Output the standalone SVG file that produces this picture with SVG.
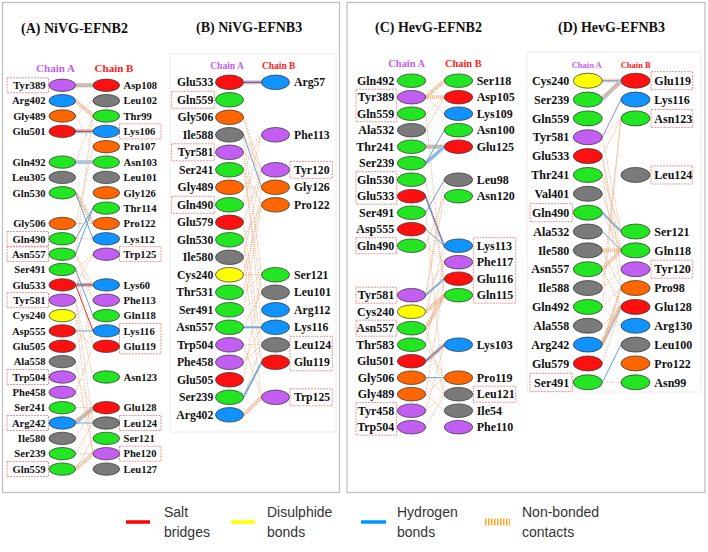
<svg xmlns="http://www.w3.org/2000/svg" width="708" height="552" viewBox="0 0 708 552">
<style>
text{font-family:"Liberation Serif","Times New Roman",serif;font-weight:bold;fill:#111}
.title{font-size:14px}
.ta{font-size:10.6px}.tb{font-size:11.7px}.tc{font-size:12px}
.e{text-anchor:end}.m{text-anchor:middle}
.cha{fill:#c35ef2}.chb{fill:#ff1a1a}
ellipse{stroke:#2a2a2a;stroke-width:0.7}
.p{fill:#c35ef2}.r{fill:#ff1010}.b{fill:#1093ff}.g{fill:#22e622}.o{fill:#ff6600}.k{fill:#7a7a7a}.y{fill:#ffff00}
.bx{fill:none;stroke:#e07a7a;stroke-width:0.8;stroke-dasharray:2 1}
line{fill:none}
.nb{stroke:#f0a070;stroke-width:1;stroke-dasharray:1 1.2;opacity:.85}
.nbb{stroke:#f3a877;stroke-width:4;stroke-dasharray:1 1}
.hb{stroke:#4a9bd6;stroke-width:0.9}
.hbb{stroke:#a6cde9;stroke-width:4}
.sb{stroke:#e3201b;stroke-width:1}
.frame{fill:#fff;stroke:#bdbdbd;stroke-width:1.2}
.inner{fill:none;stroke:#ececec;stroke-width:1}
.lg{font-family:"Liberation Sans",Arial,sans-serif;font-weight:normal;font-size:14px;fill:#333}
</style>
<rect width="708" height="552" fill="#fff"/>
<rect class="frame" x="2.5" y="2.5" width="337" height="490"/>
<rect class="frame" x="347" y="2.5" width="358" height="490"/>
<rect class="inner" x="170" y="54" width="166" height="378"/>
<rect class="inner" x="527" y="52" width="174" height="340"/>

<g id="titles">
<text class="title" x="21" y="33">(A) NiVG-EFNB2</text>
<text class="title" x="196" y="32">(B) NiVG-EFNB3</text>
<text class="title" x="375" y="32">(C) HevG-EFNB2</text>
<text class="title" x="558" y="32">(D) HevG-EFNB3</text>
<text class="m cha" x="55.5" y="72" font-size="11">Chain A</text>
<text class="m chb" x="114" y="72" font-size="11">Chain B</text>
<text class="m cha" x="227" y="68.5" font-size="9.5">Chain A</text>
<text class="m chb" x="278.7" y="68.5" font-size="9.5">Chain B</text>
<text class="m cha" x="406.7" y="67" font-size="10.4">Chain A</text>
<text class="m chb" x="463.3" y="67" font-size="10.4">Chain B</text>
<text class="m cha" x="586.7" y="67.5" font-size="8.5">Chain A</text>
<text class="m chb" x="635.7" y="67.5" font-size="8.5">Chain B</text>
</g>

<g id="connectors">
<!-- Panel A -->
<line class="hbb" x1="75.6" y1="85.3" x2="93" y2="85.3"/><line class="nbb" x1="75.6" y1="85.3" x2="93" y2="85.3"/>
<line class="nbb" x1="75.6" y1="100.7" x2="93" y2="116"/>
<line class="hbb" x1="75.6" y1="131.4" x2="93" y2="131.4"/><line class="nb" x1="75.6" y1="129.8" x2="93" y2="129.8"/><line class="sb" x1="75.6" y1="131.4" x2="93" y2="131.4"/>
<line class="hbb" x1="75.6" y1="162.1" x2="93" y2="162.1"/><line class="nb" x1="75.6" y1="162.1" x2="93" y2="162.1"/>
<line class="nbb" x1="75.6" y1="192.8" x2="93" y2="223.5"/>
<line class="hbb" x1="75.6" y1="284.9" x2="93" y2="284.9"/><line class="nb" x1="75.6" y1="283.3" x2="93" y2="283.3"/><line class="sb" x1="75.6" y1="284.9" x2="93" y2="284.9"/>
<line class="hbb" x1="75.6" y1="423" x2="93" y2="407.7"/><line class="nbb" x1="75.6" y1="421" x2="93" y2="409.5"/>
<line class="nbb" x1="75.6" y1="469.1" x2="93" y2="453.7"/>
<line class="hb" x1="75.6" y1="192.8" x2="93" y2="238.8"/>
<line class="hb" x1="75.6" y1="238.8" x2="93" y2="208.1"/>
<line class="hb" x1="75.6" y1="254.2" x2="93" y2="208.1"/>
<line class="hb" x1="75.6" y1="269.5" x2="93" y2="315.6"/>
<line class="hb" x1="75.6" y1="330.9" x2="93" y2="330.9"/>
<line class="hb" x1="75.6" y1="423" x2="93" y2="423"/>
<line class="sb" x1="75.6" y1="284.9" x2="93" y2="330.9"/>
<line class="nb" x1="75.6" y1="116" x2="93" y2="100.7"/>
<line class="nb" x1="75.6" y1="116" x2="93" y2="146.7"/>
<line class="nb" x1="75.6" y1="162.1" x2="93" y2="116"/>
<line class="nb" x1="75.6" y1="254.2" x2="93" y2="116"/>
<line class="nb" x1="75.6" y1="223.5" x2="93" y2="146.7"/>
<line class="nb" x1="75.6" y1="223.5" x2="93" y2="223.5"/>
<line class="nb" x1="75.6" y1="238.8" x2="93" y2="238.8"/>
<line class="nb" x1="75.6" y1="254.2" x2="93" y2="284.9"/>
<line class="nb" x1="75.6" y1="254.2" x2="93" y2="300.2"/>
<line class="nb" x1="75.6" y1="269.5" x2="93" y2="284.9"/>
<line class="nb" x1="75.6" y1="269.5" x2="93" y2="346.3"/>
<line class="nb" x1="75.6" y1="300.2" x2="93" y2="284.9"/>
<line class="nb" x1="75.6" y1="300.2" x2="93" y2="377"/>
<line class="nb" x1="75.6" y1="315.6" x2="93" y2="300.2"/>
<line class="nb" x1="75.6" y1="346.3" x2="93" y2="315.6"/>
<line class="nb" x1="75.6" y1="330.9" x2="93" y2="346.3"/>
<line class="nb" x1="75.6" y1="377" x2="93" y2="407.7"/>
<line class="nb" x1="75.6" y1="392.3" x2="93" y2="423"/>
<line class="nb" x1="75.6" y1="407.7" x2="93" y2="407.7"/>
<line class="nb" x1="75.6" y1="361.6" x2="93" y2="453.7"/>
<line class="nb" x1="75.6" y1="438.4" x2="93" y2="407.7"/>
<line class="nb" x1="75.6" y1="453.7" x2="93" y2="453.7"/>
<line class="nb" x1="75.6" y1="453.7" x2="93" y2="423"/>
<line class="nb" x1="75.6" y1="300.2" x2="93" y2="423"/>
<line class="nb" x1="75.6" y1="315.6" x2="93" y2="453.7"/>
<line class="nb" x1="75.6" y1="469.1" x2="93" y2="438.4"/>
<line class="nb" x1="75.6" y1="392.3" x2="93" y2="346.3"/>
<line class="nb" x1="75.6" y1="284.9" x2="93" y2="254.2"/>
<line class="nb" x1="75.6" y1="269.5" x2="93" y2="254.2"/>
<!-- Panel B -->
<line class="hbb" x1="243.5" y1="82.3" x2="261.5" y2="82.3"/><line class="sb" x1="243.5" y1="82.3" x2="261.5" y2="82.3"/>
<line class="nbb" x1="243.5" y1="414.8" x2="261.5" y2="397.3"/>
<line class="hbb" x1="243.5" y1="327.3" x2="261.5" y2="327.3" style="stroke-width:2.5"/><line class="hb" x1="243.5" y1="327.3" x2="261.5" y2="327.3"/>
<line class="hb" x1="243.5" y1="134.8" x2="261.5" y2="187.3"/>
<line class="hbb" x1="243.5" y1="397.3" x2="261.5" y2="362.3" style="stroke-width:2.5"/><line class="hb" x1="243.5" y1="397.3" x2="261.5" y2="362.3"/>
<line class="nb" x1="243.5" y1="117.3" x2="261.5" y2="169.8"/>
<line class="nb" x1="243.5" y1="117.3" x2="261.5" y2="187.3"/>
<line class="nb" x1="243.5" y1="134.8" x2="261.5" y2="169.8"/>
<line class="nb" x1="243.5" y1="152.3" x2="261.5" y2="134.8"/>
<line class="nb" x1="243.5" y1="152.3" x2="261.5" y2="169.8"/>
<line class="nb" x1="243.5" y1="169.8" x2="261.5" y2="134.8"/>
<line class="nb" x1="243.5" y1="169.8" x2="261.5" y2="204.8"/>
<line class="nb" x1="243.5" y1="187.3" x2="261.5" y2="169.8"/>
<line class="nb" x1="243.5" y1="187.3" x2="261.5" y2="187.3"/>
<line class="nb" x1="243.5" y1="204.8" x2="261.5" y2="134.8"/>
<line class="nb" x1="243.5" y1="204.8" x2="261.5" y2="187.3"/>
<line class="nb" x1="243.5" y1="222.3" x2="261.5" y2="169.8"/>
<line class="nb" x1="243.5" y1="239.8" x2="261.5" y2="204.8"/>
<line class="nb" x1="243.5" y1="257.3" x2="261.5" y2="169.8"/>
<line class="nb" x1="243.5" y1="257.3" x2="261.5" y2="397.3"/>
<line class="nb" x1="243.5" y1="274.8" x2="261.5" y2="204.8"/>
<line class="nb" x1="243.5" y1="292.3" x2="261.5" y2="274.8"/>
<line class="nb" x1="243.5" y1="292.3" x2="261.5" y2="187.3"/>
<line class="nb" x1="243.5" y1="309.8" x2="261.5" y2="204.8"/>
<line class="nb" x1="243.5" y1="309.8" x2="261.5" y2="292.3"/>
<line class="nb" x1="243.5" y1="344.8" x2="261.5" y2="344.8"/>
<line class="nb" x1="243.5" y1="362.3" x2="261.5" y2="344.8"/>
<line class="nb" x1="243.5" y1="362.3" x2="261.5" y2="327.3"/>
<line class="nb" x1="243.5" y1="379.8" x2="261.5" y2="274.8"/>
<line class="nb" x1="243.5" y1="274.8" x2="261.5" y2="274.8"/>
<line class="nb" x1="243.5" y1="239.8" x2="261.5" y2="362.3"/>
<line class="nb" x1="243.5" y1="169.8" x2="261.5" y2="292.3"/>
<line class="nb" x1="243.5" y1="152.3" x2="261.5" y2="327.3"/>
<line class="nb" x1="243.5" y1="222.3" x2="261.5" y2="344.8"/>
<line class="nb" x1="243.5" y1="344.8" x2="261.5" y2="397.3"/>
<line class="nb" x1="243.5" y1="327.3" x2="261.5" y2="292.3"/>
<line class="nb" x1="243.5" y1="134.8" x2="261.5" y2="274.8"/>
<line class="nb" x1="243.5" y1="397.3" x2="261.5" y2="344.8"/>
<!-- Panel C -->
<line class="nbb" x1="425.7" y1="97.2" x2="444.3" y2="80.7"/>
<line class="nbb" x1="425.7" y1="97.2" x2="444.3" y2="97.2"/>
<line class="hbb" x1="425.7" y1="146.7" x2="444.3" y2="146.7"/><line class="nbb" x1="425.7" y1="146.7" x2="444.3" y2="146.7"/>
<line class="hbb" x1="425.7" y1="163.2" x2="444.3" y2="146.7"/><line class="hb" x1="425.7" y1="163.2" x2="444.3" y2="146.7"/>
<line class="nbb" x1="425.7" y1="311.7" x2="444.3" y2="295.2"/>
<line class="nbb" x1="425.7" y1="328.2" x2="444.3" y2="295.2"/>
<line class="hbb" x1="425.7" y1="361.2" x2="444.3" y2="344.7"/><line class="sb" x1="425.7" y1="361.2" x2="444.3" y2="344.7"/>
<line class="hb" x1="425.7" y1="163.2" x2="444.3" y2="130.2"/>
<line class="hb" x1="425.7" y1="212.7" x2="444.3" y2="179.7"/>
<line class="sb" x1="425.7" y1="196.2" x2="444.3" y2="245.7" style="stroke:#7a5a8a"/>
<line class="hb" x1="425.7" y1="198.2" x2="444.3" y2="247.7"/>
<line class="hb" x1="425.7" y1="229.2" x2="444.3" y2="245.7"/>
<line class="hbb" x1="425.7" y1="295.2" x2="444.3" y2="278.7" style="stroke-width:2.5"/><line class="hb" x1="425.7" y1="295.2" x2="444.3" y2="278.7"/>
<line class="hb" x1="425.7" y1="377.7" x2="444.3" y2="377.7"/>
<line class="nb" x1="425.7" y1="97.2" x2="444.3" y2="113.7"/>
<line class="nb" x1="425.7" y1="113.7" x2="444.3" y2="97.2"/>
<line class="nb" x1="425.7" y1="130.2" x2="444.3" y2="97.2"/>
<line class="nb" x1="425.7" y1="295.2" x2="444.3" y2="196.2"/>
<line class="nb" x1="425.7" y1="295.2" x2="444.3" y2="179.7"/>
<line class="nb" x1="425.7" y1="245.7" x2="444.3" y2="196.2"/>
<line class="nb" x1="425.7" y1="245.7" x2="444.3" y2="262.2"/>
<line class="nb" x1="425.7" y1="295.2" x2="444.3" y2="262.2"/>
<line class="nb" x1="425.7" y1="113.7" x2="444.3" y2="295.2"/>
<line class="nb" x1="425.7" y1="344.7" x2="444.3" y2="377.7"/>
<line class="nb" x1="425.7" y1="377.7" x2="444.3" y2="394.2"/>
<line class="nb" x1="425.7" y1="394.2" x2="444.3" y2="377.7"/>
<line class="nb" x1="425.7" y1="410.7" x2="444.3" y2="394.2"/>
<line class="nb" x1="425.7" y1="427.2" x2="444.3" y2="394.2"/>
<line class="nb" x1="425.7" y1="394.2" x2="444.3" y2="278.7"/>
<line class="nb" x1="425.7" y1="328.2" x2="444.3" y2="394.2"/>
<line class="nb" x1="425.7" y1="344.7" x2="444.3" y2="262.2"/>
<line class="nb" x1="425.7" y1="311.7" x2="444.3" y2="245.7"/>
<line class="nb" x1="425.7" y1="410.7" x2="444.3" y2="344.7"/>
<line class="nb" x1="425.7" y1="212.7" x2="444.3" y2="394.2"/>
<line class="nb" x1="425.7" y1="179.7" x2="444.3" y2="278.7"/>
<line class="nb" x1="425.7" y1="394.2" x2="444.3" y2="410.7"/>
<!-- Panel D -->
<line class="nbb" x1="602.3" y1="80.7" x2="621" y2="80.7"/><line class="hb" x1="602.3" y1="80.7" x2="621" y2="80.7"/>
<line class="hbb" x1="602.3" y1="99.55" x2="621" y2="80.7"/><line class="nbb" x1="602.3" y1="97.5" x2="621" y2="82.5"/>
<line class="nbb" x1="602.3" y1="250.35" x2="621" y2="250.35"/>
<line class="nbb" x1="602.3" y1="269.2" x2="621" y2="250.35"/>
<line class="hbb" x1="602.3" y1="344.6" x2="621" y2="306.9" style="stroke-width:2.5"/><line class="nbb" x1="602.3" y1="342.6" x2="621" y2="305"/>
<line class="nbb" x1="602.3" y1="344.6" x2="621" y2="288.05" style="stroke-width:2.5"/>
<line class="hb" x1="602.3" y1="137.25" x2="621" y2="99.55" style="stroke:#7d7fd0"/>
<line class="hbb" x1="602.3" y1="212.65" x2="621" y2="231.5" style="stroke-width:2.5"/><line class="hb" x1="602.3" y1="212.65" x2="621" y2="231.5"/>
<line class="hb" x1="602.3" y1="231.5" x2="621" y2="250.35"/>
<line class="hb" x1="602.3" y1="382.3" x2="621" y2="344.6"/>
<line class="nb" x1="602.3" y1="382.3" x2="621" y2="382.3"/>
<line class="nb" x1="602.3" y1="137.25" x2="621" y2="118.4"/>
<line class="nb" x1="602.3" y1="156.1" x2="621" y2="118.4"/>
<line class="nb" x1="602.3" y1="137.25" x2="621" y2="231.5"/>
<line class="nb" x1="602.3" y1="156.1" x2="621" y2="250.35"/>
<line class="nb" x1="602.3" y1="156.1" x2="621" y2="269.2"/>
<line class="nb" x1="602.3" y1="174.95" x2="621" y2="231.5"/>
<line class="nb" x1="602.3" y1="174.95" x2="621" y2="288.05"/>
<line class="nb" x1="602.3" y1="193.8" x2="621" y2="250.35"/>
<line class="nb" x1="602.3" y1="288.05" x2="621" y2="269.2"/>
<line class="nb" x1="602.3" y1="306.9" x2="621" y2="288.05"/>
<line class="nb" x1="602.3" y1="325.75" x2="621" y2="306.9"/>
<line class="nb" x1="602.3" y1="363.45" x2="621" y2="306.9"/>
<line class="nb" x1="602.3" y1="288.05" x2="621" y2="118.4"/>
<line class="nb" x1="602.3" y1="306.9" x2="621" y2="118.4"/>
<line class="nb" x1="602.3" y1="269.2" x2="621" y2="306.9"/>
<line class="nb" x1="602.3" y1="306.9" x2="621" y2="325.75"/>
<line class="nb" x1="602.3" y1="250.35" x2="621" y2="288.05"/>
<line class="nb" x1="602.3" y1="212.65" x2="621" y2="250.35"/>
</g>

<g id="panelA">
<g id="A-a-Tyr389"><rect class="bx" x="7" y="77.8" width="41.5" height="15"/><ellipse class="p" cx="62.3" cy="85.3" rx="13.3" ry="6.2"/><text class="ta e" x="45.5" y="89">Tyr389</text></g>
<g id="A-a-Arg402"><ellipse class="b" cx="62.3" cy="100.7" rx="13.3" ry="6.2"/><text class="ta e" x="45.5" y="104.4">Arg402</text></g>
<g id="A-a-Gly489"><ellipse class="o" cx="62.3" cy="116" rx="13.3" ry="6.2"/><text class="ta e" x="45.5" y="119.7">Gly489</text></g>
<g id="A-a-Glu501"><ellipse class="r" cx="62.3" cy="131.4" rx="13.3" ry="6.2"/><text class="ta e" x="45.5" y="135.1">Glu501</text></g>
<g id="A-a-Gln492"><ellipse class="g" cx="62.3" cy="162.1" rx="13.3" ry="6.2"/><text class="ta e" x="45.5" y="165.8">Gln492</text></g>
<g id="A-a-Leu305"><ellipse class="k" cx="62.3" cy="177.4" rx="13.3" ry="6.2"/><text class="ta e" x="45.5" y="181.1">Leu305</text></g>
<g id="A-a-Gln530"><ellipse class="g" cx="62.3" cy="192.8" rx="13.3" ry="6.2"/><text class="ta e" x="45.5" y="196.5">Gln530</text></g>
<g id="A-a-Gly506"><ellipse class="o" cx="62.3" cy="223.5" rx="13.3" ry="6.2"/><text class="ta e" x="45.5" y="227.2">Gly506</text></g>
<g id="A-a-Gln490"><rect class="bx" x="7" y="231.5" width="41.5" height="14.6"/><ellipse class="g" cx="62.3" cy="238.8" rx="13.3" ry="6.2"/><text class="ta e" x="45.5" y="242.5">Gln490</text></g>
<g id="A-a-Asn557"><rect class="bx" x="7" y="246.9" width="41.5" height="14.6"/><ellipse class="g" cx="62.3" cy="254.2" rx="13.3" ry="6.2"/><text class="ta e" x="45.5" y="257.9">Asn557</text></g>
<g id="A-a-Ser491"><ellipse class="g" cx="62.3" cy="269.5" rx="13.3" ry="6.2"/><text class="ta e" x="45.5" y="273.2">Ser491</text></g>
<g id="A-a-Glu533"><ellipse class="r" cx="62.3" cy="284.9" rx="13.3" ry="6.2"/><text class="ta e" x="45.5" y="288.6">Glu533</text></g>
<g id="A-a-Tyr581"><rect class="bx" x="7" y="292.7" width="41.5" height="15"/><ellipse class="p" cx="62.3" cy="300.2" rx="13.3" ry="6.2"/><text class="ta e" x="45.5" y="303.9">Tyr581</text></g>
<g id="A-a-Cys240"><ellipse class="y" cx="62.3" cy="315.6" rx="13.3" ry="6.2"/><text class="ta e" x="45.5" y="319.3">Cys240</text></g>
<g id="A-a-Asp555"><ellipse class="r" cx="62.3" cy="330.9" rx="13.3" ry="6.2"/><text class="ta e" x="45.5" y="334.6">Asp555</text></g>
<g id="A-a-Glu505"><ellipse class="r" cx="62.3" cy="346.3" rx="13.3" ry="6.2"/><text class="ta e" x="45.5" y="350">Glu505</text></g>
<g id="A-a-Ala558"><ellipse class="k" cx="62.3" cy="361.6" rx="13.3" ry="6.2"/><text class="ta e" x="45.5" y="365.3">Ala558</text></g>
<g id="A-a-Trp504"><rect class="bx" x="7" y="369.5" width="41.5" height="15"/><ellipse class="p" cx="62.3" cy="377" rx="13.3" ry="6.2"/><text class="ta e" x="45.5" y="380.7">Trp504</text></g>
<g id="A-a-Phe458"><ellipse class="p" cx="62.3" cy="392.3" rx="13.3" ry="6.2"/><text class="ta e" x="45.5" y="396">Phe458</text></g>
<g id="A-a-Ser241"><ellipse class="g" cx="62.3" cy="407.7" rx="13.3" ry="6.2"/><text class="ta e" x="45.5" y="411.4">Ser241</text></g>
<g id="A-a-Arg242"><rect class="bx" x="7" y="415.5" width="41.5" height="15"/><ellipse class="b" cx="62.3" cy="423" rx="13.3" ry="6.2"/><text class="ta e" x="45.5" y="426.7">Arg242</text></g>
<g id="A-a-Ile580"><ellipse class="k" cx="62.3" cy="438.4" rx="13.3" ry="6.2"/><text class="ta e" x="45.5" y="442.1">Ile580</text></g>
<g id="A-a-Ser239"><ellipse class="g" cx="62.3" cy="453.7" rx="13.3" ry="6.2"/><text class="ta e" x="45.5" y="457.4">Ser239</text></g>
<g id="A-a-Gln559"><rect class="bx" x="7" y="461.6" width="41.5" height="15"/><ellipse class="g" cx="62.3" cy="469.1" rx="13.3" ry="6.2"/><text class="ta e" x="45.5" y="472.8">Gln559</text></g>

<g id="A-b-Asp108"><ellipse class="r" cx="106.3" cy="85.3" rx="13.3" ry="6.2"/><text class="ta" x="123.5" y="89">Asp108</text></g>
<g id="A-b-Leu102"><ellipse class="k" cx="106.3" cy="100.7" rx="13.3" ry="6.2"/><text class="ta" x="123.5" y="104.4">Leu102</text></g>
<g id="A-b-Thr99"><ellipse class="g" cx="106.3" cy="116" rx="13.3" ry="6.2"/><text class="ta" x="123.5" y="119.7">Thr99</text></g>
<g id="A-b-Lys106"><rect class="bx" x="119.5" y="123.9" width="41.5" height="15"/><ellipse class="b" cx="106.3" cy="131.4" rx="13.3" ry="6.2"/><text class="ta" x="123.5" y="135.1">Lys106</text></g>
<g id="A-b-Pro107"><ellipse class="o" cx="106.3" cy="146.7" rx="13.3" ry="6.2"/><text class="ta" x="123.5" y="150.4">Pro107</text></g>
<g id="A-b-Asn103"><ellipse class="g" cx="106.3" cy="162.1" rx="13.3" ry="6.2"/><text class="ta" x="123.5" y="165.8">Asn103</text></g>
<g id="A-b-Leu101"><ellipse class="k" cx="106.3" cy="177.4" rx="13.3" ry="6.2"/><text class="ta" x="123.5" y="181.1">Leu101</text></g>
<g id="A-b-Gly126"><ellipse class="o" cx="106.3" cy="192.8" rx="13.3" ry="6.2"/><text class="ta" x="123.5" y="196.5">Gly126</text></g>
<g id="A-b-Thr114"><ellipse class="g" cx="106.3" cy="208.1" rx="13.3" ry="6.2"/><text class="ta" x="123.5" y="211.8">Thr114</text></g>
<g id="A-b-Pro122"><ellipse class="o" cx="106.3" cy="223.5" rx="13.3" ry="6.2"/><text class="ta" x="123.5" y="227.2">Pro122</text></g>
<g id="A-b-Lys112"><ellipse class="b" cx="106.3" cy="238.8" rx="13.3" ry="6.2"/><text class="ta" x="123.5" y="242.5">Lys112</text></g>
<g id="A-b-Trp125"><rect class="bx" x="119.5" y="246.7" width="41.5" height="15"/><ellipse class="p" cx="106.3" cy="254.2" rx="13.3" ry="6.2"/><text class="ta" x="123.5" y="257.9">Trp125</text></g>
<g id="A-b-Lys60"><ellipse class="b" cx="106.3" cy="284.9" rx="13.3" ry="6.2"/><text class="ta" x="123.5" y="288.6">Lys60</text></g>
<g id="A-b-Phe113"><ellipse class="p" cx="106.3" cy="300.2" rx="13.3" ry="6.2"/><text class="ta" x="123.5" y="303.9">Phe113</text></g>
<g id="A-b-Gln118"><ellipse class="g" cx="106.3" cy="315.6" rx="13.3" ry="6.2"/><text class="ta" x="123.5" y="319.3">Gln118</text></g>
<g id="A-b-Lys116"><rect class="bx" x="119.5" y="323.4" width="41.5" height="30.4"/><ellipse class="b" cx="106.3" cy="330.9" rx="13.3" ry="6.2"/><text class="ta" x="123.5" y="334.6">Lys116</text></g>
<g id="A-b-Glu119"><ellipse class="r" cx="106.3" cy="346.3" rx="13.3" ry="6.2"/><text class="ta" x="123.5" y="350">Glu119</text></g>
<g id="A-b-Asn123"><ellipse class="g" cx="106.3" cy="377" rx="13.3" ry="6.2"/><text class="ta" x="123.5" y="380.7">Asn123</text></g>
<g id="A-b-Glu128"><ellipse class="r" cx="106.3" cy="407.7" rx="13.3" ry="6.2"/><text class="ta" x="123.5" y="411.4">Glu128</text></g>
<g id="A-b-Leu124"><rect class="bx" x="119.5" y="415.5" width="41.5" height="15"/><ellipse class="k" cx="106.3" cy="423" rx="13.3" ry="6.2"/><text class="ta" x="123.5" y="426.7">Leu124</text></g>
<g id="A-b-Ser121"><ellipse class="g" cx="106.3" cy="438.4" rx="13.3" ry="6.2"/><text class="ta" x="123.5" y="442.1">Ser121</text></g>
<g id="A-b-Phe120"><rect class="bx" x="119.5" y="446.2" width="41.5" height="15"/><ellipse class="p" cx="106.3" cy="453.7" rx="13.3" ry="6.2"/><text class="ta" x="123.5" y="457.4">Phe120</text></g>
<g id="A-b-Leu127"><ellipse class="k" cx="106.3" cy="469.1" rx="13.3" ry="6.2"/><text class="ta" x="123.5" y="472.8">Leu127</text></g>
</g>

<g id="panelB">
<g id="B-a-Glu533"><ellipse class="r" cx="229.5" cy="82.3" rx="14" ry="7.3"/><text class="tb e" x="213.3" y="86.4">Glu533</text></g>
<g id="B-a-Gln559"><rect class="bx" x="171.7" y="91.3" width="42.6" height="17"/><ellipse class="g" cx="229.5" cy="99.8" rx="14" ry="7.3"/><text class="tb e" x="213.3" y="103.9">Gln559</text></g>
<g id="B-a-Gly506"><ellipse class="o" cx="229.5" cy="117.3" rx="14" ry="7.3"/><text class="tb e" x="213.3" y="121.4">Gly506</text></g>
<g id="B-a-Ile588"><ellipse class="k" cx="229.5" cy="134.8" rx="14" ry="7.3"/><text class="tb e" x="213.3" y="138.9">Ile588</text></g>
<g id="B-a-Tyr581"><rect class="bx" x="171.7" y="143.8" width="42.6" height="17"/><ellipse class="p" cx="229.5" cy="152.3" rx="14" ry="7.3"/><text class="tb e" x="213.3" y="156.4">Tyr581</text></g>
<g id="B-a-Ser241"><ellipse class="g" cx="229.5" cy="169.8" rx="14" ry="7.3"/><text class="tb e" x="213.3" y="173.9">Ser241</text></g>
<g id="B-a-Gly489"><ellipse class="o" cx="229.5" cy="187.3" rx="14" ry="7.3"/><text class="tb e" x="213.3" y="191.4">Gly489</text></g>
<g id="B-a-Gln490"><rect class="bx" x="171.7" y="196.3" width="42.6" height="17"/><ellipse class="g" cx="229.5" cy="204.8" rx="14" ry="7.3"/><text class="tb e" x="213.3" y="208.9">Gln490</text></g>
<g id="B-a-Glu579"><ellipse class="r" cx="229.5" cy="222.3" rx="14" ry="7.3"/><text class="tb e" x="213.3" y="226.4">Glu579</text></g>
<g id="B-a-Gln530"><ellipse class="g" cx="229.5" cy="239.8" rx="14" ry="7.3"/><text class="tb e" x="213.3" y="243.9">Gln530</text></g>
<g id="B-a-Ile580"><ellipse class="k" cx="229.5" cy="257.3" rx="14" ry="7.3"/><text class="tb e" x="213.3" y="261.4">Ile580</text></g>
<g id="B-a-Cys240"><ellipse class="y" cx="229.5" cy="274.8" rx="14" ry="7.3"/><text class="tb e" x="213.3" y="278.9">Cys240</text></g>
<g id="B-a-Thr531"><ellipse class="g" cx="229.5" cy="292.3" rx="14" ry="7.3"/><text class="tb e" x="213.3" y="296.4">Thr531</text></g>
<g id="B-a-Ser491"><ellipse class="g" cx="229.5" cy="309.8" rx="14" ry="7.3"/><text class="tb e" x="213.3" y="313.9">Ser491</text></g>
<g id="B-a-Asn557"><ellipse class="g" cx="229.5" cy="327.3" rx="14" ry="7.3"/><text class="tb e" x="213.3" y="331.4">Asn557</text></g>
<g id="B-a-Trp504"><ellipse class="p" cx="229.5" cy="344.8" rx="14" ry="7.3"/><text class="tb e" x="213.3" y="348.9">Trp504</text></g>
<g id="B-a-Phe458"><ellipse class="p" cx="229.5" cy="362.3" rx="14" ry="7.3"/><text class="tb e" x="213.3" y="366.4">Phe458</text></g>
<g id="B-a-Glu505"><ellipse class="r" cx="229.5" cy="379.8" rx="14" ry="7.3"/><text class="tb e" x="213.3" y="383.9">Glu505</text></g>
<g id="B-a-Ser239"><ellipse class="g" cx="229.5" cy="397.3" rx="14" ry="7.3"/><text class="tb e" x="213.3" y="401.4">Ser239</text></g>
<g id="B-a-Arg402"><ellipse class="b" cx="229.5" cy="414.8" rx="14" ry="7.3"/><text class="tb e" x="213.3" y="418.9">Arg402</text></g>

<g id="B-b-Arg57"><ellipse class="b" cx="275.5" cy="82.3" rx="14" ry="7.3"/><text class="tb" x="294" y="86.4">Arg57</text></g>
<g id="B-b-Phe113"><ellipse class="p" cx="275.5" cy="134.8" rx="14" ry="7.3"/><text class="tb" x="294" y="138.9">Phe113</text></g>
<g id="B-b-Tyr120"><rect class="bx" x="290" y="161.3" width="42.3" height="17"/><ellipse class="p" cx="275.5" cy="169.8" rx="14" ry="7.3"/><text class="tb" x="294" y="173.9">Tyr120</text></g>
<g id="B-b-Gly126"><ellipse class="o" cx="275.5" cy="187.3" rx="14" ry="7.3"/><text class="tb" x="294" y="191.4">Gly126</text></g>
<g id="B-b-Pro122"><ellipse class="o" cx="275.5" cy="204.8" rx="14" ry="7.3"/><text class="tb" x="294" y="208.9">Pro122</text></g>
<g id="B-b-Ser121"><ellipse class="g" cx="275.5" cy="274.8" rx="14" ry="7.3"/><text class="tb" x="294" y="278.9">Ser121</text></g>
<g id="B-b-Leu101"><ellipse class="k" cx="275.5" cy="292.3" rx="14" ry="7.3"/><text class="tb" x="294" y="296.4">Leu101</text></g>
<g id="B-b-Arg112"><ellipse class="b" cx="275.5" cy="309.8" rx="14" ry="7.3"/><text class="tb" x="294" y="313.9">Arg112</text></g>
<g id="B-b-Lys116"><ellipse class="b" cx="275.5" cy="327.3" rx="14" ry="7.3"/><text class="tb" x="294" y="331.4">Lys116</text></g>
<g id="B-b-Leu124"><rect class="bx" x="290" y="336.3" width="42.3" height="34.5"/><ellipse class="k" cx="275.5" cy="344.8" rx="14" ry="7.3"/><text class="tb" x="294" y="348.9">Leu124</text></g>
<g id="B-b-Glu119"><ellipse class="r" cx="275.5" cy="362.3" rx="14" ry="7.3"/><text class="tb" x="294" y="366.4">Glu119</text></g>
<g id="B-b-Trp125"><rect class="bx" x="290" y="388.8" width="42.3" height="17"/><ellipse class="p" cx="275.5" cy="397.3" rx="14" ry="7.3"/><text class="tb" x="294" y="401.4">Trp125</text></g>
</g>

<g id="panelC">
<g id="C-a-Gln492"><ellipse class="g" cx="411.5" cy="80.7" rx="14.2" ry="6.8"/><text class="tc e" x="394.3" y="84.9">Gln492</text></g>
<g id="C-a-Tyr389"><rect class="bx" x="356" y="89.2" width="40.7" height="32.5"/><ellipse class="p" cx="411.5" cy="97.2" rx="14.2" ry="6.8"/><text class="tc e" x="394.3" y="101.4">Tyr389</text></g>
<g id="C-a-Gln559"><ellipse class="g" cx="411.5" cy="113.7" rx="14.2" ry="6.8"/><text class="tc e" x="394.3" y="117.9">Gln559</text></g>
<g id="C-a-Ala532"><ellipse class="k" cx="411.5" cy="130.2" rx="14.2" ry="6.8"/><text class="tc e" x="394.3" y="134.4">Ala532</text></g>
<g id="C-a-Thr241"><ellipse class="g" cx="411.5" cy="146.7" rx="14.2" ry="6.8"/><text class="tc e" x="394.3" y="150.9">Thr241</text></g>
<g id="C-a-Ser239"><ellipse class="g" cx="411.5" cy="163.2" rx="14.2" ry="6.8"/><text class="tc e" x="394.3" y="167.4">Ser239</text></g>
<g id="C-a-Gln530"><rect class="bx" x="356" y="171.7" width="40.7" height="32.5"/><ellipse class="g" cx="411.5" cy="179.7" rx="14.2" ry="6.8"/><text class="tc e" x="394.3" y="183.9">Gln530</text></g>
<g id="C-a-Glu533"><ellipse class="r" cx="411.5" cy="196.2" rx="14.2" ry="6.8"/><text class="tc e" x="394.3" y="200.4">Glu533</text></g>
<g id="C-a-Ser491"><ellipse class="g" cx="411.5" cy="212.7" rx="14.2" ry="6.8"/><text class="tc e" x="394.3" y="216.9">Ser491</text></g>
<g id="C-a-Asp555"><ellipse class="r" cx="411.5" cy="229.2" rx="14.2" ry="6.8"/><text class="tc e" x="394.3" y="233.4">Asp555</text></g>
<g id="C-a-Gln490"><rect class="bx" x="356" y="237.7" width="40.7" height="16"/><ellipse class="g" cx="411.5" cy="245.7" rx="14.2" ry="6.8"/><text class="tc e" x="394.3" y="249.9">Gln490</text></g>
<g id="C-a-Tyr581"><rect class="bx" x="356" y="287.2" width="40.7" height="16"/><ellipse class="p" cx="411.5" cy="295.2" rx="14.2" ry="6.8"/><text class="tc e" x="394.3" y="299.4">Tyr581</text></g>
<g id="C-a-Cys240"><ellipse class="y" cx="411.5" cy="311.7" rx="14.2" ry="6.8"/><text class="tc e" x="394.3" y="315.9">Cys240</text></g>
<g id="C-a-Asn557"><rect class="bx" x="356" y="320.2" width="40.7" height="16"/><ellipse class="g" cx="411.5" cy="328.2" rx="14.2" ry="6.8"/><text class="tc e" x="394.3" y="332.4">Asn557</text></g>
<g id="C-a-Thr583"><ellipse class="g" cx="411.5" cy="344.7" rx="14.2" ry="6.8"/><text class="tc e" x="394.3" y="348.9">Thr583</text></g>
<g id="C-a-Glu501"><ellipse class="r" cx="411.5" cy="361.2" rx="14.2" ry="6.8"/><text class="tc e" x="394.3" y="365.4">Glu501</text></g>
<g id="C-a-Gly506"><ellipse class="o" cx="411.5" cy="377.7" rx="14.2" ry="6.8"/><text class="tc e" x="394.3" y="381.9">Gly506</text></g>
<g id="C-a-Gly489"><ellipse class="o" cx="411.5" cy="394.2" rx="14.2" ry="6.8"/><text class="tc e" x="394.3" y="398.4">Gly489</text></g>
<g id="C-a-Tyr458"><rect class="bx" x="356" y="402.7" width="40.7" height="32.5"/><ellipse class="p" cx="411.5" cy="410.7" rx="14.2" ry="6.8"/><text class="tc e" x="394.3" y="414.9">Tyr458</text></g>
<g id="C-a-Trp504"><ellipse class="p" cx="411.5" cy="427.2" rx="14.2" ry="6.8"/><text class="tc e" x="394.3" y="431.4">Trp504</text></g>

<g id="C-b-Ser118"><ellipse class="g" cx="458.5" cy="80.7" rx="14.2" ry="6.8"/><text class="tc" x="476.7" y="84.9">Ser118</text></g>
<g id="C-b-Asp105"><ellipse class="r" cx="458.5" cy="97.2" rx="14.2" ry="6.8"/><text class="tc" x="476.7" y="101.4">Asp105</text></g>
<g id="C-b-Lys109"><ellipse class="b" cx="458.5" cy="113.7" rx="14.2" ry="6.8"/><text class="tc" x="476.7" y="117.9">Lys109</text></g>
<g id="C-b-Asn100"><ellipse class="g" cx="458.5" cy="130.2" rx="14.2" ry="6.8"/><text class="tc" x="476.7" y="134.4">Asn100</text></g>
<g id="C-b-Glu125"><ellipse class="r" cx="458.5" cy="146.7" rx="14.2" ry="6.8"/><text class="tc" x="476.7" y="150.9">Glu125</text></g>
<g id="C-b-Leu98"><ellipse class="k" cx="458.5" cy="179.7" rx="14.2" ry="6.8"/><text class="tc" x="476.7" y="183.9">Leu98</text></g>
<g id="C-b-Asn120"><ellipse class="g" cx="458.5" cy="196.2" rx="14.2" ry="6.8"/><text class="tc" x="476.7" y="200.4">Asn120</text></g>
<g id="C-b-Lys113"><rect class="bx" x="473.3" y="237.7" width="42.4" height="65.5"/><ellipse class="b" cx="458.5" cy="245.7" rx="14.2" ry="6.8"/><text class="tc" x="476.7" y="249.9">Lys113</text></g>
<g id="C-b-Phe117"><ellipse class="p" cx="458.5" cy="262.2" rx="14.2" ry="6.8"/><text class="tc" x="476.7" y="266.4">Phe117</text></g>
<g id="C-b-Glu116"><ellipse class="r" cx="458.5" cy="278.7" rx="14.2" ry="6.8"/><text class="tc" x="476.7" y="282.9">Glu116</text></g>
<g id="C-b-Gln115"><ellipse class="g" cx="458.5" cy="295.2" rx="14.2" ry="6.8"/><text class="tc" x="476.7" y="299.4">Gln115</text></g>
<g id="C-b-Lys103"><ellipse class="b" cx="458.5" cy="344.7" rx="14.2" ry="6.8"/><text class="tc" x="476.7" y="348.9">Lys103</text></g>
<g id="C-b-Pro119"><ellipse class="o" cx="458.5" cy="377.7" rx="14.2" ry="6.8"/><text class="tc" x="476.7" y="381.9">Pro119</text></g>
<g id="C-b-Leu121"><rect class="bx" x="473.3" y="386.2" width="42.4" height="16"/><ellipse class="k" cx="458.5" cy="394.2" rx="14.2" ry="6.8"/><text class="tc" x="476.7" y="398.4">Leu121</text></g>
<g id="C-b-Ile54"><ellipse class="k" cx="458.5" cy="410.7" rx="14.2" ry="6.8"/><text class="tc" x="476.7" y="414.9">Ile54</text></g>
<g id="C-b-Phe110"><ellipse class="p" cx="458.5" cy="427.2" rx="14.2" ry="6.8"/><text class="tc" x="476.7" y="431.4">Phe110</text></g>
</g>

<g id="panelD">
<g id="D-a-Cys240"><ellipse class="y" cx="587.8" cy="80.7" rx="14.5" ry="7.5"/><text class="tc e" x="569.3" y="84.9">Cys240</text></g>
<g id="D-a-Ser239"><ellipse class="g" cx="587.8" cy="99.55" rx="14.5" ry="7.5"/><text class="tc e" x="569.3" y="103.75">Ser239</text></g>
<g id="D-a-Gln559"><ellipse class="g" cx="587.8" cy="118.4" rx="14.5" ry="7.5"/><text class="tc e" x="569.3" y="122.6">Gln559</text></g>
<g id="D-a-Tyr581"><ellipse class="p" cx="587.8" cy="137.25" rx="14.5" ry="7.5"/><text class="tc e" x="569.3" y="141.45">Tyr581</text></g>
<g id="D-a-Glu533"><ellipse class="r" cx="587.8" cy="156.1" rx="14.5" ry="7.5"/><text class="tc e" x="569.3" y="160.3">Glu533</text></g>
<g id="D-a-Thr241"><ellipse class="g" cx="587.8" cy="174.95" rx="14.5" ry="7.5"/><text class="tc e" x="569.3" y="179.15">Thr241</text></g>
<g id="D-a-Val401"><ellipse class="k" cx="587.8" cy="193.8" rx="14.5" ry="7.5"/><text class="tc e" x="569.3" y="198">Val401</text></g>
<g id="D-a-Gln490"><rect class="bx" x="530" y="203.65" width="42.3" height="18"/><ellipse class="g" cx="587.8" cy="212.65" rx="14.5" ry="7.5"/><text class="tc e" x="569.3" y="216.85">Gln490</text></g>
<g id="D-a-Ala532"><ellipse class="k" cx="587.8" cy="231.5" rx="14.5" ry="7.5"/><text class="tc e" x="569.3" y="235.7">Ala532</text></g>
<g id="D-a-Ile580"><ellipse class="k" cx="587.8" cy="250.35" rx="14.5" ry="7.5"/><text class="tc e" x="569.3" y="254.55">Ile580</text></g>
<g id="D-a-Asn557"><ellipse class="g" cx="587.8" cy="269.2" rx="14.5" ry="7.5"/><text class="tc e" x="569.3" y="273.4">Asn557</text></g>
<g id="D-a-Ile588"><ellipse class="k" cx="587.8" cy="288.05" rx="14.5" ry="7.5"/><text class="tc e" x="569.3" y="292.25">Ile588</text></g>
<g id="D-a-Gln492"><ellipse class="g" cx="587.8" cy="306.9" rx="14.5" ry="7.5"/><text class="tc e" x="569.3" y="311.1">Gln492</text></g>
<g id="D-a-Ala558"><ellipse class="k" cx="587.8" cy="325.75" rx="14.5" ry="7.5"/><text class="tc e" x="569.3" y="329.95">Ala558</text></g>
<g id="D-a-Arg242"><ellipse class="b" cx="587.8" cy="344.6" rx="14.5" ry="7.5"/><text class="tc e" x="569.3" y="348.8">Arg242</text></g>
<g id="D-a-Glu579"><ellipse class="r" cx="587.8" cy="363.45" rx="14.5" ry="7.5"/><text class="tc e" x="569.3" y="367.65">Glu579</text></g>
<g id="D-a-Ser491"><rect class="bx" x="530" y="373.3" width="42.3" height="18"/><ellipse class="g" cx="587.8" cy="382.3" rx="14.5" ry="7.5"/><text class="tc e" x="569.3" y="386.5">Ser491</text></g>

<g id="D-b-Glu119"><rect class="bx" x="651" y="71.7" width="41.7" height="18"/><ellipse class="r" cx="635.5" cy="80.7" rx="14.5" ry="7.5"/><text class="tc" x="654.3" y="84.9">Glu119</text></g>
<g id="D-b-Lys116"><ellipse class="b" cx="635.5" cy="99.55" rx="14.5" ry="7.5"/><text class="tc" x="654.3" y="103.75">Lys116</text></g>
<g id="D-b-Asn123"><rect class="bx" x="651" y="109.4" width="41.7" height="18"/><ellipse class="g" cx="635.5" cy="118.4" rx="14.5" ry="7.5"/><text class="tc" x="654.3" y="122.6">Asn123</text></g>
<g id="D-b-Leu124"><rect class="bx" x="651" y="165.95" width="41.7" height="18"/><ellipse class="k" cx="635.5" cy="174.95" rx="14.5" ry="7.5"/><text class="tc" x="654.3" y="179.15">Leu124</text></g>
<g id="D-b-Ser121"><ellipse class="g" cx="635.5" cy="231.5" rx="14.5" ry="7.5"/><text class="tc" x="654.3" y="235.7">Ser121</text></g>
<g id="D-b-Gln118"><ellipse class="g" cx="635.5" cy="250.35" rx="14.5" ry="7.5"/><text class="tc" x="654.3" y="254.55">Gln118</text></g>
<g id="D-b-Tyr120"><rect class="bx" x="651" y="260.2" width="41.7" height="18"/><ellipse class="p" cx="635.5" cy="269.2" rx="14.5" ry="7.5"/><text class="tc" x="654.3" y="273.4">Tyr120</text></g>
<g id="D-b-Pro98"><ellipse class="o" cx="635.5" cy="288.05" rx="14.5" ry="7.5"/><text class="tc" x="654.3" y="292.25">Pro98</text></g>
<g id="D-b-Glu128"><ellipse class="r" cx="635.5" cy="306.9" rx="14.5" ry="7.5"/><text class="tc" x="654.3" y="311.1">Glu128</text></g>
<g id="D-b-Arg130"><ellipse class="b" cx="635.5" cy="325.75" rx="14.5" ry="7.5"/><text class="tc" x="654.3" y="329.95">Arg130</text></g>
<g id="D-b-Leu100"><ellipse class="k" cx="635.5" cy="344.6" rx="14.5" ry="7.5"/><text class="tc" x="654.3" y="348.8">Leu100</text></g>
<g id="D-b-Pro122"><ellipse class="o" cx="635.5" cy="363.45" rx="14.5" ry="7.5"/><text class="tc" x="654.3" y="367.65">Pro122</text></g>
<g id="D-b-Asn99"><ellipse class="g" cx="635.5" cy="382.3" rx="14.5" ry="7.5"/><text class="tc" x="654.3" y="386.5">Asn99</text></g>
</g>

<g id="legend">
<line x1="126" y1="522" x2="150" y2="522" stroke="#ff0000" stroke-width="3.5"/>
<text class="lg" x="164" y="517">Salt</text><text class="lg" x="164" y="537">bridges</text>
<line x1="231" y1="522" x2="255" y2="522" stroke="#ffff00" stroke-width="3.5"/>
<text class="lg" x="267" y="517">Disulphide</text><text class="lg" x="267" y="537">bonds</text>
<line x1="361" y1="522" x2="386" y2="522" stroke="#0096ff" stroke-width="3.5"/>
<text class="lg" x="397" y="517">Hydrogen</text><text class="lg" x="397" y="537">bonds</text>
<line x1="485" y1="522" x2="510" y2="522" stroke="#ffa520" stroke-width="7" stroke-dasharray="1.5 1.5"/>
<text class="lg" x="522" y="517">Non-bonded</text><text class="lg" x="522" y="537">contacts</text>
</g>
</svg>
